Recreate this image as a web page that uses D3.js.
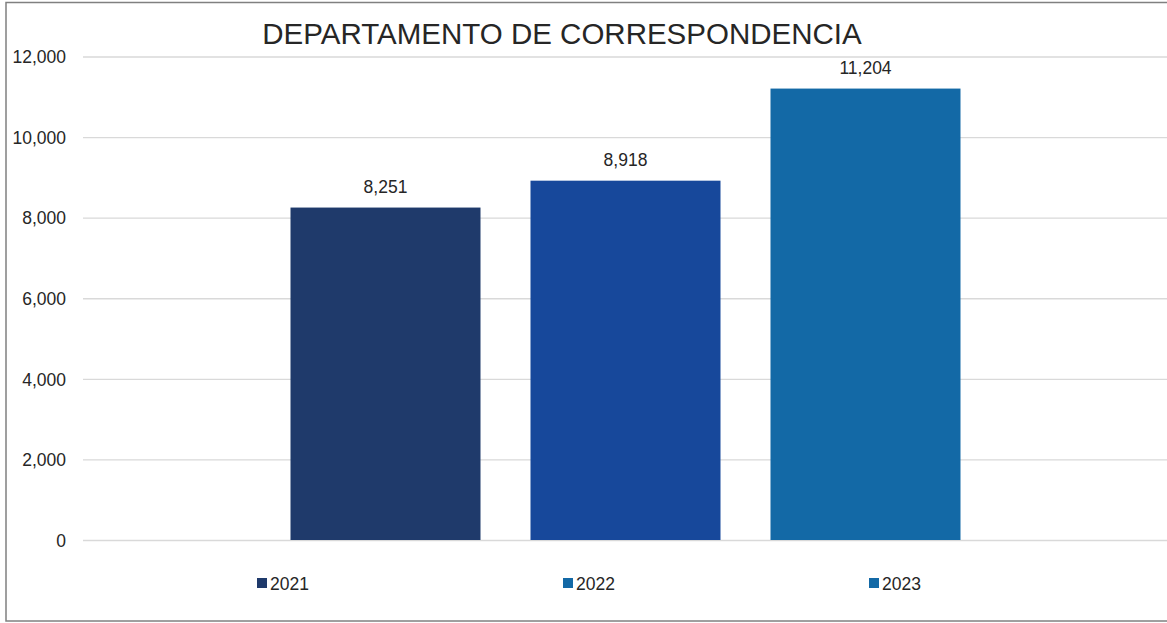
<!DOCTYPE html>
<html lang="es">
<head>
  <meta charset="UTF-8">
  <title>Departamento de Correspondencia</title>
  <script src="https://d3js.org/d3.v7.min.js"></script>
  <style>
    html, body { margin: 0; padding: 0; background: #fff; }
    svg { display: block; font-family: "Liberation Sans", Arial, sans-serif; }
  </style>
</head>
<body>
  <svg width="1167" height="623"></svg>
  <script>
    // chart data
    const years = ["2021", "2022", "2023"];
    const values = [8251, 8918, 11204];
    const barColors = ["#1f3a6b", "#17489b", "#1369a6"];
    const legendColors = ["#1f3a6b", "#1369a6", "#1369a6"];
    const yTicks = [0, 2000, 4000, 6000, 8000, 10000, 12000];
    const title = "DEPARTAMENTO DE CORRESPONDENCIA";

    const width = 1167, height = 623;
    const plot = { left: 83, right: 1168, top: 56.5, bottom: 540 };

    const svg = d3.select("svg");

    // outer frame (runs past the right edge like the original)
    svg.append("rect")
      .attr("x", 6).attr("y", 2.5)
      .attr("width", 1175).attr("height", 618.5)
      .attr("fill", "none")
      .attr("stroke", "#808080")
      .attr("stroke-width", 1.5);

    const y = d3.scaleLinear()
      .domain([0, 12000])
      .range([plot.bottom, plot.top]);

    const x = d3.scaleBand()
      .domain(years)
      .range([plot.left, plot.right])
      .paddingInner(50 / 240)
      .paddingOuter(0.8646);

    // gridlines + tick labels
    const yAxis = d3.axisLeft(y)
      .tickValues(yTicks)
      .tickSize(-(plot.right - plot.left))
      .tickPadding(17)
      .tickFormat(d3.format(","));

    const gy = svg.append("g")
      .attr("transform", `translate(${plot.left},0)`)
      .call(yAxis);
    gy.select(".domain").remove();
    gy.selectAll(".tick line")
      .attr("stroke", "#d9d9d9")
      .attr("stroke-width", 1.3);
    gy.selectAll(".tick text")
      .attr("fill", "#262626")
      .attr("font-size", 17.5)
      .attr("dy", "0.36em");

    // bars
    svg.append("g")
      .selectAll("rect")
      .data(years)
      .join("rect")
      .attr("x", d => x(d))
      .attr("y", (d, i) => y(values[i]))
      .attr("width", x.bandwidth())
      .attr("height", (d, i) => y(0) - y(values[i]))
      .attr("fill", (d, i) => barColors[i]);

    // data labels
    svg.append("g")
      .selectAll("text")
      .data(years)
      .join("text")
      .attr("x", d => x(d) + x.bandwidth() / 2)
      .attr("y", (d, i) => y(values[i]) - 15)
      .attr("text-anchor", "middle")
      .attr("font-size", 17.5)
      .attr("fill", "#262626")
      .text((d, i) => d3.format(",")(values[i]));

    // title
    svg.append("text")
      .attr("x", 562)
      .attr("y", 44)
      .attr("text-anchor", "middle")
      .attr("font-size", 29.5)
      .attr("fill", "#262626")
      .text(title);

    // legend
    const legendX = [257, 563, 869];
    const legend = svg.append("g")
      .selectAll("g")
      .data(years)
      .join("g")
      .attr("transform", (d, i) => `translate(${legendX[i]},578)`);
    legend.append("rect")
      .attr("width", 10).attr("height", 10)
      .attr("fill", (d, i) => legendColors[i]);
    legend.append("text")
      .attr("x", 13)
      .attr("y", 11.5)
      .attr("font-size", 17.5)
      .attr("fill", "#262626")
      .text(d => d);
  </script>
</body>
</html>
